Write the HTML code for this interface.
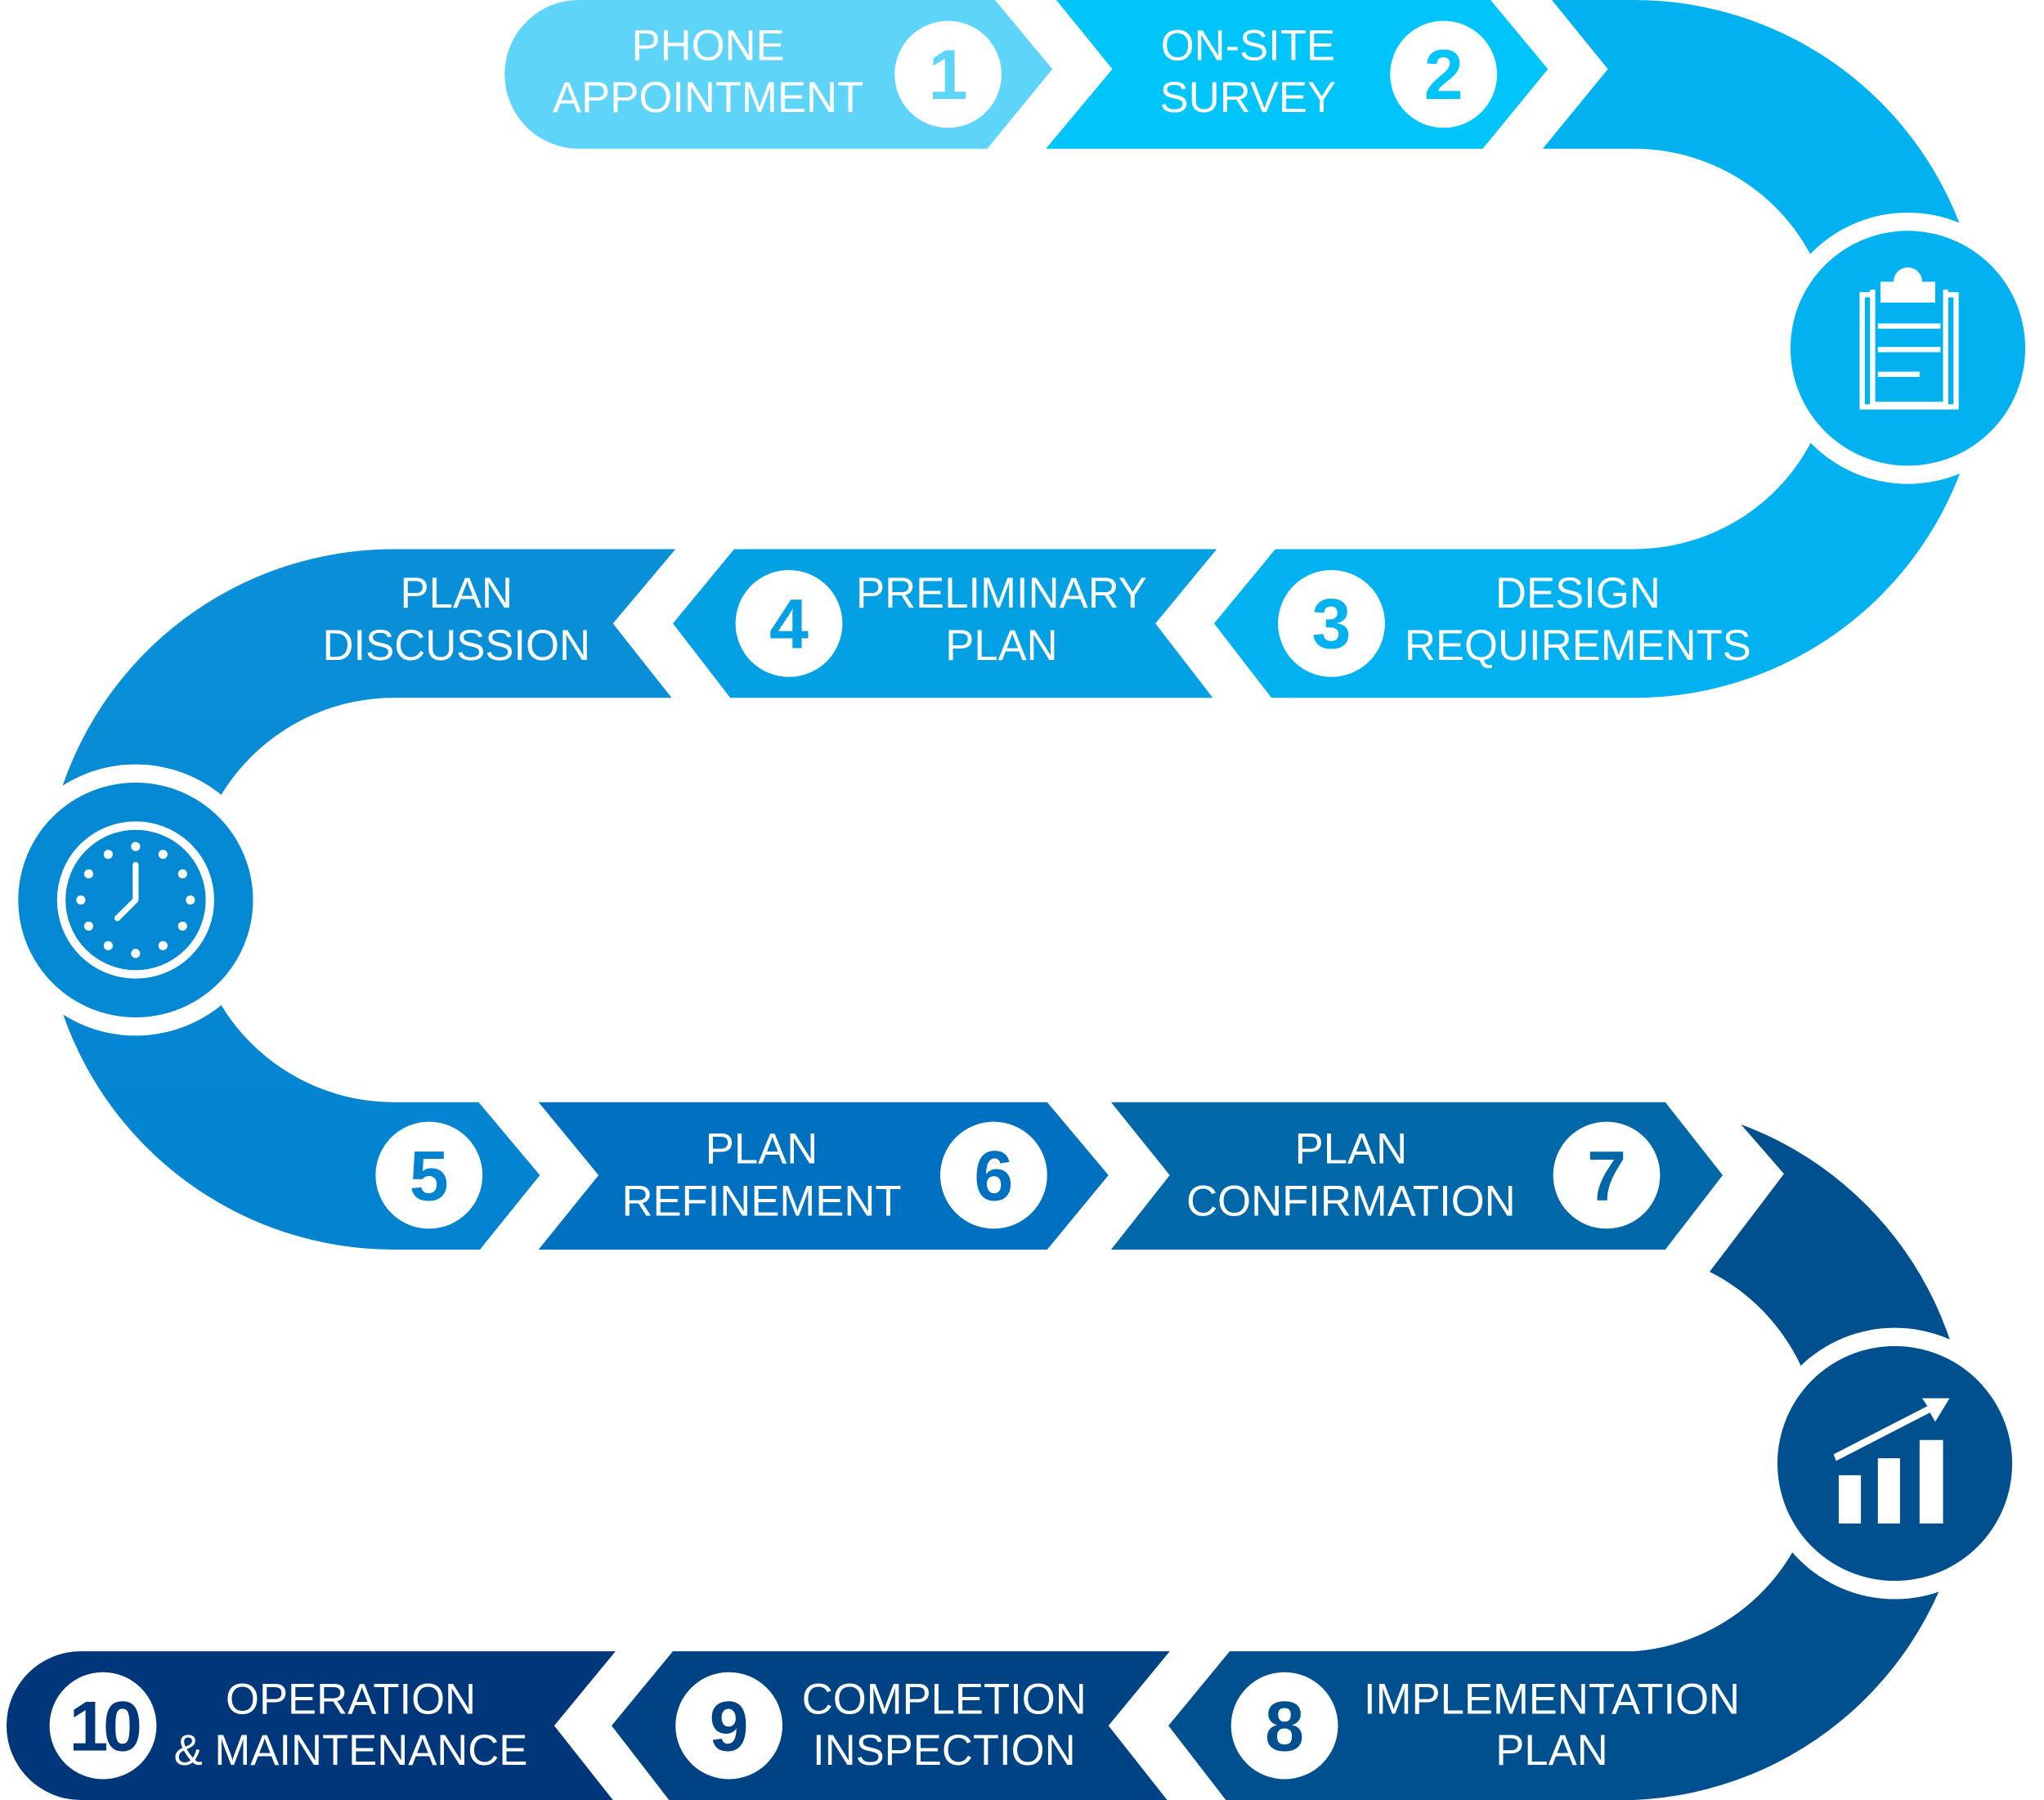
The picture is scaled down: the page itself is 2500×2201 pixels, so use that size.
<!DOCTYPE html>
<html><head><meta charset="utf-8"><style>
html,body{margin:0;padding:0;background:#fff;}
svg{display:block;}
text{font-family:"Liberation Sans",sans-serif;fill:#fff;}
.t{font-size:33px;text-anchor:middle;}
.n{font-size:54px;font-weight:bold;text-anchor:middle;}
</style></head><body>
<svg width="2500" height="2201" viewBox="0 0 1567.4 1380" preserveAspectRatio="none" xmlns="http://www.w3.org/2000/svg">
<defs>
<linearGradient id="gl" x1="0" y1="0" x2="0" y2="1">
<stop offset="0" stop-color="#0a90d9"/><stop offset="1" stop-color="#0282cf"/>
</linearGradient>
</defs>
<path d="M444 0 L763 0 L807 53 L757 114 L444 114 A57 57 0 0 1 444 0 Z" fill="#5fd4f9"/>
<path d="M810 0 L1143 0 L1187 53 L1137 114 L802 114 L853 53 Z" fill="#00c5fb"/>
<path d="M1190 0 L1253 0 A267.5 267.5 0 0 1 1253 535 L975 535 L931 478 L978 421 L1253 421 A153.5 153.5 0 0 0 1253 114 L1183 114 L1233 53 Z" fill="#02b2f0"/>
<path d="M933 421 L886 478 L930 535 L560 535 L516 478 L563 421 Z" fill="#04a0e4"/>
<path d="M302 421 L518 421 L470 478 L515 535 L302 535 A155 155 0 0 0 302 845 L367 845 L414 901 L368 958 L302 958 A268.5 268.5 0 0 1 302 421 Z" fill="url(#gl)"/>
<path d="M413 845 L803 845 L850 901 L803 958 L413 958 L459 901 Z" fill="#0070c0"/>
<path d="M852 845 L1277 845 L1321 901 L1277 958 L852 958 L897 901 Z" fill="#0068a8"/>
<path d="M1335 862 A267.5 267.5 0 0 1 1253 1380 L940 1380 L896 1323 L943 1266 L1253 1266 A154 154 0 0 0 1311 975 L1368 900 Z" fill="#00508f"/>
<path d="M897 1266 L850 1323 L895 1380 L513 1380 L469 1323 L516 1266 Z" fill="#004385"/>
<path d="M472 1266 L425 1323 L470 1380 L62 1380 A57 57 0 0 1 62 1266 Z" fill="#00377a"/>

<circle cx="1463" cy="267" r="104" fill="#fff"/>
<circle cx="1463" cy="267" r="90" fill="#02b2f0"/>
<g fill="none" stroke="#fff" stroke-width="4">
<path d="M1436 226 L1428 226 L1428 312 L1500 312 L1500 226 L1492 226"/>
<path d="M1436 222 L1436 310 L1492 310 L1492 222"/>
</g>
<path d="M1442 232 L1442 216 L1452 216 A11 11 0 0 1 1474 216 L1484 216 L1484 232 Z" fill="#fff"/>
<g stroke="#fff" stroke-width="4">
<line x1="1440" y1="250" x2="1488" y2="250"/>
<line x1="1440" y1="268" x2="1488" y2="268"/>
<line x1="1440" y1="287" x2="1472" y2="287"/>
</g>

<circle cx="104" cy="690" r="104" fill="#fff"/>
<circle cx="104" cy="690" r="90" fill="#0388d3"/>
<circle cx="104" cy="690" r="57" fill="none" stroke="#fff" stroke-width="6.5"/>
<g fill="#fff" transform="translate(0,3)">
<circle cx="104" cy="646" r="3.5"/><circle cx="125" cy="652" r="3.5"/><circle cx="140" cy="667" r="3.5"/>
<circle cx="146" cy="687" r="3.5"/><circle cx="140" cy="707" r="3.5"/><circle cx="125" cy="722" r="3.5"/>
<circle cx="104" cy="728" r="3.5"/><circle cx="83" cy="722" r="3.5"/><circle cx="68" cy="707" r="3.5"/>
<circle cx="62" cy="687" r="3.5"/><circle cx="68" cy="667" r="3.5"/><circle cx="83" cy="652" r="3.5"/>
</g>
<path d="M104 663 L104 690 L90 704" fill="none" stroke="#fff" stroke-width="4.5" stroke-linecap="round" stroke-linejoin="round"/>

<circle cx="1453" cy="1122" r="104" fill="#fff"/>
<circle cx="1453" cy="1122" r="90" fill="#00508f"/>
<g fill="#fff">
<rect x="1410" y="1131" width="17" height="37"/>
<rect x="1440" y="1118" width="17" height="50"/>
<rect x="1472" y="1104" width="18" height="64"/>
<path d="M1406 1115 L1478 1078 L1474 1072 L1495 1072 L1484 1090 L1480 1083 L1408 1120 Z"/>
</g>

<g fill="#fff">
<circle cx="727" cy="57" r="41"/><circle cx="1107" cy="57" r="41"/>
<circle cx="1021" cy="478" r="41"/><circle cx="605" cy="478" r="41"/>
<circle cx="329" cy="901" r="41"/><circle cx="762" cy="901" r="41"/><circle cx="1232" cy="901" r="41"/>
<circle cx="985" cy="1323" r="41"/><circle cx="559" cy="1323" r="41"/><circle cx="79" cy="1323" r="41"/>
</g>
<text class="n" x="727" y="76" style="fill:#5fd4f9">1</text>
<text class="n" x="1107" y="76" style="fill:#00c5fb">2</text>
<text class="n" x="1021" y="497" style="fill:#02b2f0">3</text>
<text class="n" x="605" y="497" style="fill:#04a0e4">4</text>
<text class="n" x="329" y="920" style="fill:#0282cf">5</text>
<text class="n" x="762" y="920" style="fill:#0070c0">6</text>
<text class="n" x="1232" y="920" style="fill:#0068a8">7</text>
<text class="n" x="985" y="1342" style="fill:#00508f">8</text>
<text class="n" x="559" y="1342" style="fill:#004385">9</text>
<text class="n" x="79" y="1342" style="fill:#00377a;letter-spacing:-4px">10</text>

<text class="t" x="543" y="46">PHONE</text><text class="t" x="543" y="86">APPOINTMENT</text>
<text class="t" x="957" y="46">ON-SITE</text><text class="t" x="957" y="86">SURVEY</text>
<text class="t" x="1210" y="466">DESIGN</text><text class="t" x="1210" y="506">REQUIREMENTS</text>
<text class="t" x="768" y="466">PRELIMINARY</text><text class="t" x="768" y="506">PLAN</text>
<text class="t" x="350" y="466">PLAN</text><text class="t" x="350" y="506">DISCUSSION</text>
<text class="t" x="584" y="892">PLAN</text><text class="t" x="584" y="932">REFINEMENT</text>
<text class="t" x="1036" y="892">PLAN</text><text class="t" x="1036" y="932">CONFIRMATION</text>
<text class="t" x="1190" y="1314">IMPLEMENTATION</text><text class="t" x="1190" y="1353">PLAN</text>
<text class="t" x="724" y="1314">COMPLETION</text><text class="t" x="724" y="1353">INSPECTION</text>
<text class="t" x="269" y="1314">OPERATION</text><text class="t" x="269" y="1353">&amp; MAINTENANCE</text>
</svg>
</body></html>
